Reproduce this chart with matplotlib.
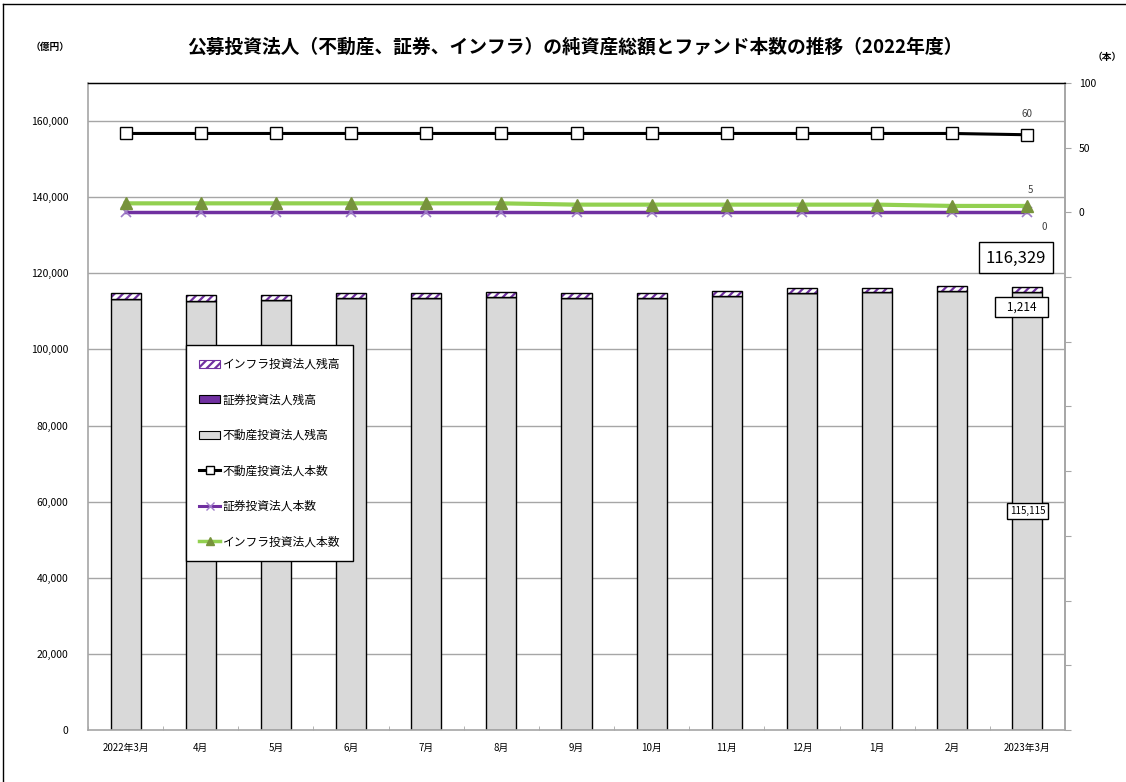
import matplotlib
matplotlib.use("Agg")
import matplotlib.pyplot as plt
from matplotlib.patches import Patch
from matplotlib.lines import Line2D
from matplotlib.ticker import FuncFormatter, MultipleLocator
import numpy as np

plt.rcParams['font.family'] = ['Noto Sans CJK JP', 'DejaVu Sans']
plt.rcParams['hatch.linewidth'] = 1.6

# 月次データ（2022年3月〜2023年3月）
months = ["2022年3月", "4月", "5月", "6月", "7月", "8月", "9月", "10月",
          "11月", "12月", "1月", "2月", "2023年3月"]
# 純資産総額（億円）
realestate_bal = [113370, 112850, 112950, 113420, 113420, 113750, 113550,
                  113600, 114150, 114940, 114960, 115350, 115115]
securities_bal = [0, 0, 0, 0, 0, 0, 0, 0, 0, 0, 0, 0, 0]
infra_bal = [1400, 1350, 1350, 1350, 1350, 1350, 1300, 1300, 1300, 1300,
             1280, 1250, 1214]
# ファンド本数（本）
realestate_cnt = [61, 61, 61, 61, 61, 61, 61, 61, 61, 61, 61, 61, 60]
securities_cnt = [0, 0, 0, 0, 0, 0, 0, 0, 0, 0, 0, 0, 0]
infra_cnt = [7, 7, 7, 7, 7, 7, 6, 6, 6, 6, 6, 5, 5]

GRAY = "#D9D9D9"
PURPLE = "#7030A0"
PURPLE_LIGHT = "#9E7BC8"
GREEN = "#92D050"
GREEN_DARK = "#77933C"
GRID = "#A6A6A6"

fig = plt.figure(figsize=(11.26, 7.82), dpi=100)
ax = fig.add_axes([88 / 1126, 1 - 730 / 782, (1065 - 88) / 1126, (730 - 83) / 782])
ax2 = ax.twinx()

x = np.arange(len(months))
w = 0.4
re = np.array(realestate_bal)
se = np.array(securities_bal)
inf = np.array(infra_bal)

# 積み上げ棒：不動産 → 証券 → インフラ
ax.bar(x, re, w, color=GRAY, edgecolor="black", linewidth=1.0, zorder=2)
ax.bar(x, se, w, bottom=re, color=PURPLE, edgecolor="black", linewidth=1.0, zorder=2)
ax.bar(x, inf, w, bottom=re + se, color="white", edgecolor=PURPLE, hatch="////",
       linewidth=0, zorder=2)
ax.bar(x, inf, w, bottom=re + se, fill=False, edgecolor="black", linewidth=1.0, zorder=3)

ax.set_xlim(-0.5, len(months) - 0.5)
ax.set_ylim(0, 170000)
ax.set_yticks(np.arange(0, 160001, 20000))
ax.yaxis.set_major_formatter(FuncFormatter(lambda v, p: f"{int(v):,}"))
ax.set_xticks(x)
ax.set_xticklabels(months, fontsize=7)
ax.set_xticks(np.arange(-0.5, len(months), 1), minor=True)
ax.tick_params(axis="x", which="major", length=0, pad=9)
ax.tick_params(axis="x", which="minor", direction="in", length=3, color=GRID)
ax.tick_params(axis="y", length=0, labelsize=7.5, pad=14)
for v in np.arange(20000, 160001, 20000):
    ax.axhline(v, color=GRID, linewidth=1.0, zorder=0)
ax.spines["top"].set_color("black")
ax.spines["top"].set_linewidth(1.0)
for s in ("left", "bottom", "right"):
    ax.spines[s].set_color(GRID)
    ax.spines[s].set_linewidth(1.2)

# 本数（右軸）
ax2.set_ylim(-400, 100)
ax2.yaxis.set_major_locator(MultipleLocator(50))
ax2.yaxis.set_major_formatter(FuncFormatter(lambda v, p: f"{int(v)}" if v >= 0 else ""))
ax2.tick_params(axis="y", direction="out", length=4, color=GRID, labelsize=7.5, pad=6)
ax2.spines["right"].set_color(GRID)
ax2.spines["right"].set_linewidth(1.2)
for s in ("left", "bottom"):
    ax2.spines[s].set_visible(False)
ax2.spines["top"].set_color("black")

ax2.plot(x, realestate_cnt, color="black", linewidth=2.2, marker="s", markersize=8,
         markerfacecolor="white", markeredgecolor="black", markeredgewidth=1.0, zorder=5)
ax2.plot(x, securities_cnt, color=PURPLE, linewidth=2.5, marker="x", markersize=7,
         markeredgecolor=PURPLE_LIGHT, markeredgewidth=1.2, zorder=4)
ax2.plot(x, infra_cnt, color=GREEN, linewidth=3.0, marker="^", markersize=8,
         markerfacecolor=GREEN_DARK, markeredgecolor=GREEN_DARK, zorder=4)

# 最終月の本数ラベル
last = len(months) - 1
lab_kw = dict(fontsize=7, color="#404040", textcoords="offset points", ha="center")
ax2.annotate(f"{realestate_cnt[last]}", (x[last], realestate_cnt[last]), xytext=(0, 13), **lab_kw)
ax2.annotate(f"{infra_cnt[last]}", (x[last], infra_cnt[last]), xytext=(2, 9), **lab_kw)
ax2.annotate(f"{securities_cnt[last]}", (x[last], securities_cnt[last]), xytext=(12, -13), **lab_kw)

# 最終月の残高ラベル
total_last = re[last] + se[last] + inf[last]
ax.text(x[last] - 0.15, total_last + 7700, f"{total_last:,}", fontsize=12,
        ha="center", va="center", zorder=6,
        bbox=dict(boxstyle="square,pad=0.42", facecolor="white", edgecolor="black", linewidth=1.0))
ax.text(x[last] - 0.08, total_last - 5200, f"   {inf[last]:,}   ", fontsize=8.5,
        ha="center", va="center", zorder=6,
        bbox=dict(boxstyle="square,pad=0.3", facecolor="white", edgecolor="black", linewidth=1.0))
ax.text(x[last], re[last] / 2, f"{re[last]:,}", fontsize=7,
        ha="center", va="center", zorder=6,
        bbox=dict(boxstyle="square,pad=0.3", facecolor="white", edgecolor="black", linewidth=1.0))

# 凡例
handles = [
    Patch(facecolor="white", edgecolor=PURPLE, hatch="////", linewidth=0.8),
    Patch(facecolor=PURPLE, edgecolor="black", linewidth=0.8),
    Patch(facecolor=GRAY, edgecolor="black", linewidth=0.8),
    Line2D([], [], color="black", linewidth=2.2, marker="s", markersize=6,
           markerfacecolor="white", markeredgecolor="black"),
    Line2D([], [], color=PURPLE, linewidth=2.2, marker="x", markersize=6,
           markeredgecolor=PURPLE_LIGHT),
    Line2D([], [], color=GREEN, linewidth=2.5, marker="^", markersize=6,
           markerfacecolor=GREEN_DARK, markeredgecolor=GREEN_DARK),
]
labels = ["インフラ投資法人残高", "証券投資法人残高", "不動産投資法人残高",
          "不動産投資法人本数", "証券投資法人本数", "インフラ投資法人本数"]
leg = ax2.legend(handles, labels, loc="upper left", bbox_to_anchor=(186 / 1126, 1 - 345 / 782),
                 bbox_transform=fig.transFigure, fontsize=8.5, labelspacing=1.9,
                 handlelength=1.8, handletextpad=0.2, borderpad=1.1, borderaxespad=0,
                 fancybox=False, framealpha=1, edgecolor="black")
leg.get_frame().set_linewidth(1.0)
leg.set_zorder(10)

# タイトル・軸単位
fig.text(575 / 1126, 1 - 47 / 782,
         "公募投資法人（不動産、証券、インフラ）の純資産総額とファンド本数の推移（2022年度）",
         fontsize=13.5, fontweight="bold", ha="center", va="center")
fig.text(50 / 1126, 1 - 47 / 782, "（億円）", fontsize=7, fontweight="bold", ha="center", va="center")
fig.text(1107 / 1126, 1 - 57 / 782, "（本）", fontsize=7, fontweight="bold", ha="center", va="center")

# 外枠
fig.add_artist(Line2D([3 / 1126, 3 / 1126], [0, 1 - 4 / 782], transform=fig.transFigure,
                      color="black", linewidth=1.0))
fig.add_artist(Line2D([3 / 1126, 1], [1 - 4 / 782, 1 - 4 / 782], transform=fig.transFigure,
                      color="black", linewidth=1.0))

fig.savefig("out.png", dpi=100)
